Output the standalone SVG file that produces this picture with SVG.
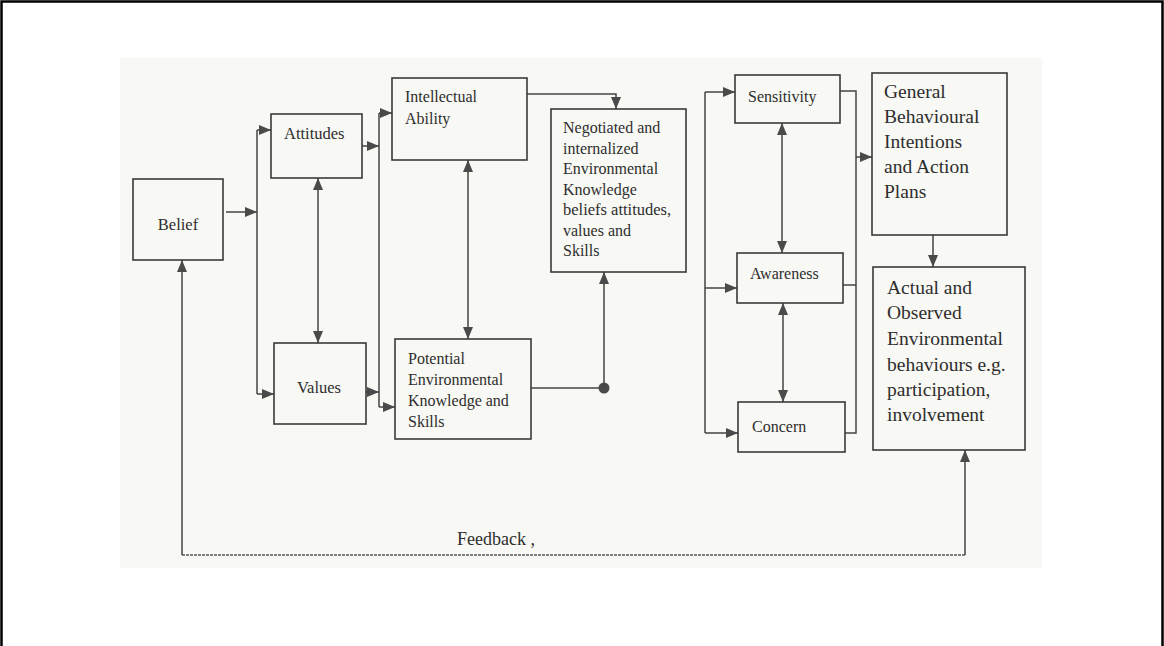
<svg xmlns="http://www.w3.org/2000/svg" width="1164" height="646" viewBox="0 0 1164 646">
<style>
.box{fill:none;stroke:#3a3a3a;stroke-width:1.6}
.t{font-family:"Liberation Serif","Times New Roman",serif;font-size:16px;fill:#2e2e2e}
.tl{font-family:"Liberation Serif","Times New Roman",serif;font-size:19.5px;fill:#2e2e2e}
.c{fill:none;stroke:#444;stroke-width:1.5}
.fb{fill:none;stroke:#555;stroke-width:1.3;stroke-dasharray:3 1}
</style>
<defs>
<marker id="ah" viewBox="0 0 12 10" refX="12" refY="5" markerWidth="12" markerHeight="10" markerUnits="userSpaceOnUse" orient="auto-start-reverse">
<path d="M0,0 L12,5 L0,10 Z" fill="#4a4a4a"/>
</marker>
</defs>
<rect x="0" y="0" width="1164" height="646" fill="#ffffff"/>
<rect x="120" y="58" width="922" height="510" fill="#f8f8f4"/>
<path d="M1.5,646 V1.5 H1162.5 V646" fill="none" stroke="#000" stroke-width="2.5"/>

<g id="connectors">
<path class="c" d="M226,212 H257" marker-end="url(#ah)"/>
<path class="c" d="M257,130 V394"/>
<path class="c" d="M257,130 H271" marker-end="url(#ah)"/>
<path class="c" d="M257,394 H274" marker-end="url(#ah)"/>
<path class="c" d="M318,178 V343" marker-start="url(#ah)" marker-end="url(#ah)"/>
<path class="c" d="M362,146 H379" marker-end="url(#ah)"/>
<path class="c" d="M366,392 H379" marker-end="url(#ah)"/>
<path class="c" d="M379,113 V407"/>
<path class="c" d="M379,113 H392" marker-end="url(#ah)"/>
<path class="c" d="M379,407 H395" marker-end="url(#ah)"/>
<path class="c" d="M468,160 V339" marker-start="url(#ah)" marker-end="url(#ah)"/>
<path class="c" d="M527,94 H616 V109" marker-end="url(#ah)"/>
<path class="c" d="M531,388 H604"/>
<circle cx="604" cy="388" r="5.5" fill="#4a4a4a"/>
<path class="c" d="M604,388 V272" marker-end="url(#ah)"/>
<path class="c" d="M705,92 V433"/>
<path class="c" d="M705,92 H735" marker-end="url(#ah)"/>
<path class="c" d="M705,288 H737" marker-end="url(#ah)"/>
<path class="c" d="M705,433 H738" marker-end="url(#ah)"/>
<path class="c" d="M782,123 V253" marker-start="url(#ah)" marker-end="url(#ah)"/>
<path class="c" d="M783,303 V402" marker-start="url(#ah)" marker-end="url(#ah)"/>
<path class="c" d="M840,91 H856 V433 H845"/>
<path class="c" d="M843,285 H856"/>
<path class="c" d="M856,157 H872" marker-end="url(#ah)"/>
<path class="c" d="M933,235 V267" marker-end="url(#ah)"/>
<path class="c" d="M965,555 V450" marker-end="url(#ah)"/>
<path class="fb" d="M965,555 H182"/>
<path class="c" d="M182,555 V260" marker-end="url(#ah)"/>
<text class="t" x="457" y="545" style="font-size:18px">Feedback  ,</text>
</g>

<g id="belief">
<rect class="box" x="133" y="179" width="90" height="81"/>
<text class="t" x="178" y="230" text-anchor="middle" style="font-size:16.5px">Belief</text>
</g>
<g id="attitudes">
<rect class="box" x="271" y="114" width="91" height="64"/>
<text class="t" x="284" y="139" style="font-size:16.5px">Attitudes</text>
</g>
<g id="values">
<rect class="box" x="274" y="343" width="92" height="81"/>
<text class="t" x="297" y="393" style="font-size:16.5px">Values</text>
</g>
<g id="intellectual">
<rect class="box" x="392" y="78" width="135" height="82"/>
<text class="t" x="405" y="102">Intellectual</text>
<text class="t" x="405" y="124">Ability</text>
</g>
<g id="potential">
<rect class="box" x="395" y="339" width="136" height="100"/>
<text class="t" x="408" y="364">Potential</text>
<text class="t" x="408" y="385">Environmental</text>
<text class="t" x="408" y="406">Knowledge and</text>
<text class="t" x="408" y="427">Skills</text>
</g>
<g id="negotiated">
<rect class="box" x="551" y="109" width="135" height="163"/>
<text class="t" x="563" y="133">Negotiated and</text>
<text class="t" x="563" y="154">internalized</text>
<text class="t" x="563" y="174">Environmental</text>
<text class="t" x="563" y="195">Knowledge</text>
<text class="t" x="563" y="215" style="font-size:16.5px">beliefs attitudes,</text>
<text class="t" x="563" y="236">values and</text>
<text class="t" x="563" y="256">Skills</text>
</g>
<g id="sensitivity">
<rect class="box" x="735" y="75" width="105" height="48"/>
<text class="t" x="748" y="102">Sensitivity</text>
</g>
<g id="awareness">
<rect class="box" x="737" y="253" width="106" height="50"/>
<text class="t" x="750" y="279">Awareness</text>
</g>
<g id="concern">
<rect class="box" x="738" y="402" width="107" height="50"/>
<text class="t" x="752" y="432">Concern</text>
</g>
<g id="general">
<rect class="box" x="872" y="73" width="135" height="162"/>
<text class="tl" x="884" y="98">General</text>
<text class="tl" x="884" y="123">Behavioural</text>
<text class="tl" x="884" y="148">Intentions</text>
<text class="tl" x="884" y="173">and Action</text>
<text class="tl" x="884" y="198">Plans</text>
</g>
<g id="actual">
<rect class="box" x="873" y="267" width="152" height="183"/>
<text class="tl" x="887" y="294">Actual and</text>
<text class="tl" x="887" y="319">Observed</text>
<text class="tl" x="887" y="345">Environmental</text>
<text class="tl" x="887" y="371">behaviours e.g.</text>
<text class="tl" x="887" y="396">participation,</text>
<text class="tl" x="887" y="421">involvement</text>
</g>
</svg>
